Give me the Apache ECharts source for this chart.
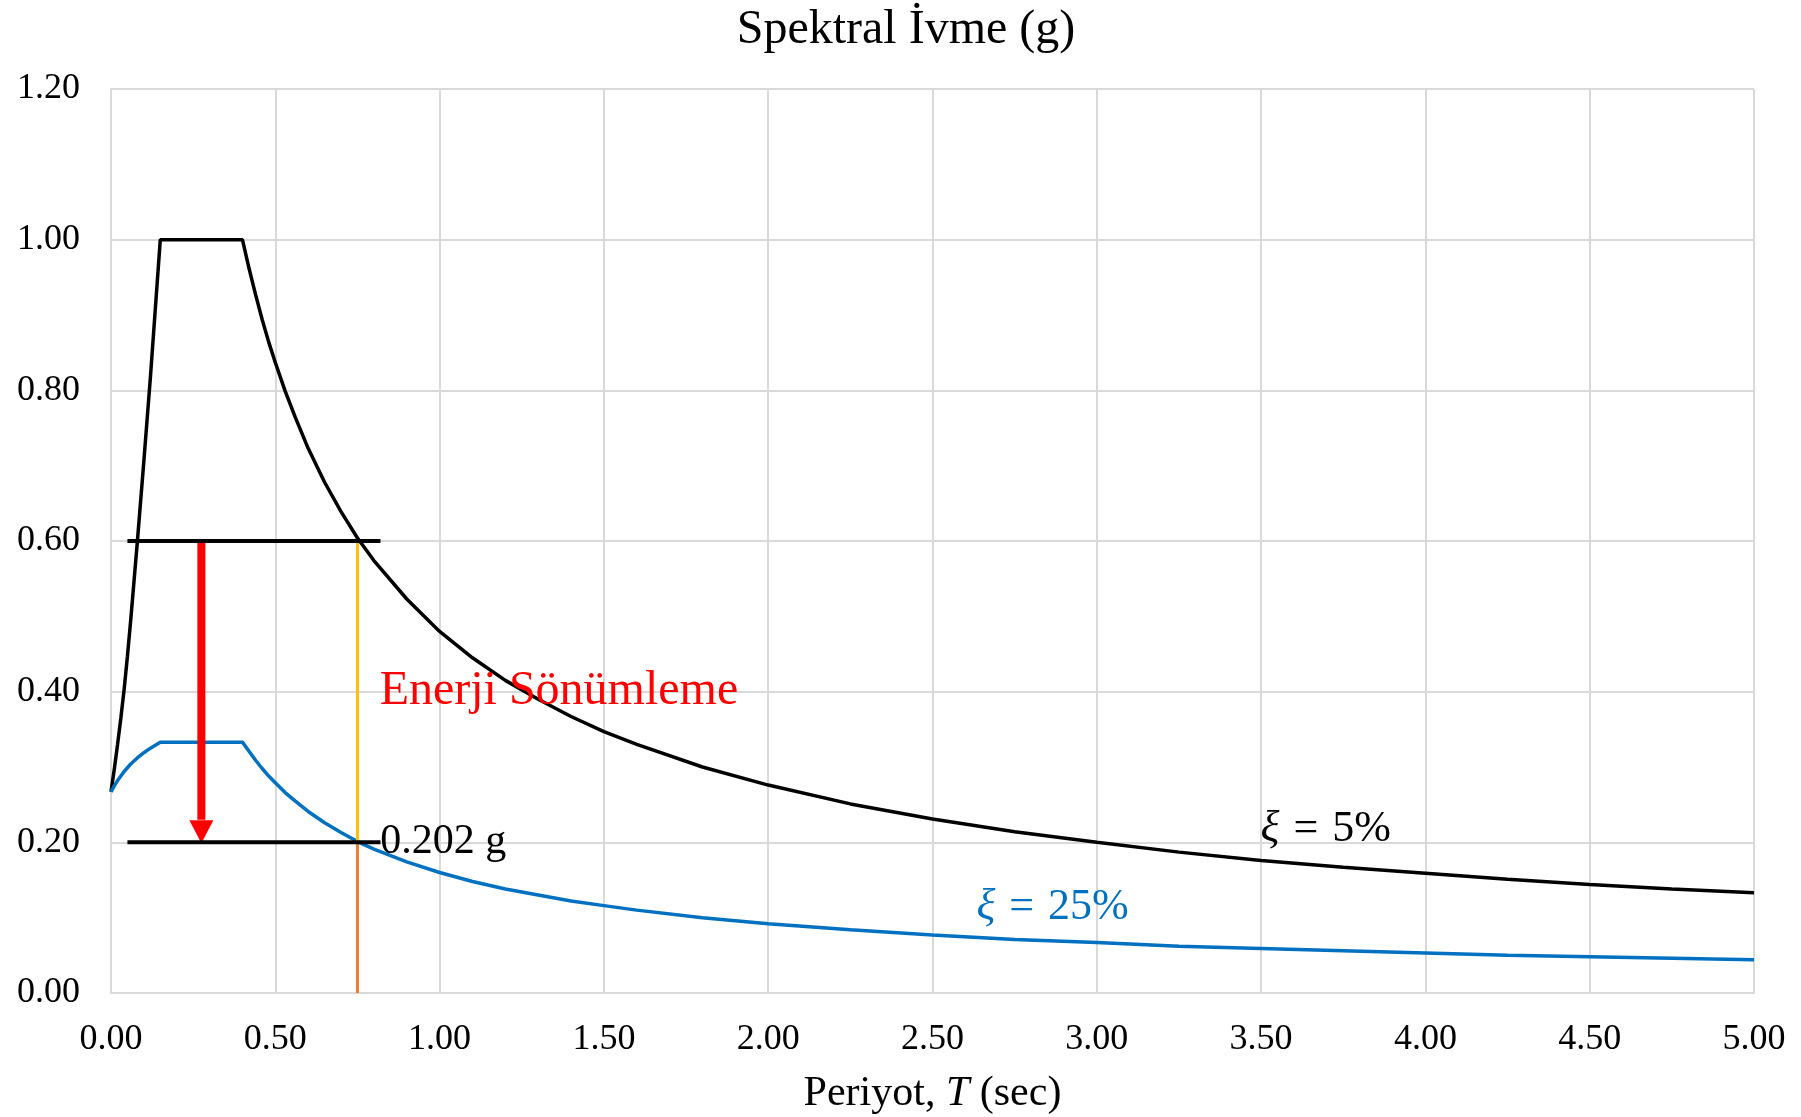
<!DOCTYPE html>
<html lang="tr">
<head>
    <meta charset="UTF-8">
    <title>Spektral İvme</title>
    <script src="https://cdn.jsdelivr.net/npm/echarts@6/dist/echarts.min.js"></script>
    <style>
        html, body { margin: 0; padding: 0; background: #fff; }
        #spektrum { width: 1801px; height: 1117px; }
    </style>
</head>
<body>
<div id="spektrum"></div>
<script>
    // periyot T (s)
    var periods = [0, 0.01, 0.02, 0.03, 0.04, 0.05, 0.06, 0.08, 0.10, 0.12, 0.15,
        0.40, 0.42, 0.44, 0.46, 0.48, 0.50, 0.53, 0.56, 0.60, 0.65, 0.70, 0.75, 0.80, 0.90,
        1.00, 1.10, 1.20, 1.30, 1.40, 1.50, 1.60, 1.80, 2.00, 2.25, 2.50, 2.75,
        3.00, 3.25, 3.50, 3.75, 4.00, 4.25, 4.50, 4.75, 5.00];
    // ksi = %5 spektral ivme (g)
    var sa5 = [0.267, 0.297, 0.330, 0.365, 0.403, 0.447, 0.495, 0.598, 0.706, 0.818, 1.000,
        1.000, 0.962, 0.927, 0.894, 0.864, 0.837, 0.799, 0.765, 0.723, 0.678, 0.639, 0.604, 0.574, 0.523,
        0.480, 0.445, 0.415, 0.390, 0.367, 0.347, 0.330, 0.300, 0.276, 0.251, 0.231, 0.214,
        0.200, 0.187, 0.176, 0.167, 0.159, 0.151, 0.144, 0.138, 0.133];
    // ksi = %25 spektral ivme (g)
    var sa25 = [0.267, 0.275, 0.282, 0.288, 0.294, 0.299, 0.304, 0.312, 0.319, 0.325, 0.333,
        0.333, 0.321, 0.309, 0.298, 0.288, 0.279, 0.266, 0.255, 0.241, 0.226, 0.213, 0.201, 0.191, 0.174,
        0.160, 0.148, 0.138, 0.130, 0.122, 0.116, 0.110, 0.100, 0.092, 0.084, 0.077, 0.071,
        0.067, 0.062, 0.059, 0.056, 0.053, 0.050, 0.048, 0.046, 0.044];

    var xTicks = [0, 0.5, 1, 1.5, 2, 2.5, 3, 3.5, 4, 4.5, 5];
    var yTicks = [0, 0.2, 0.4, 0.6, 0.8, 1.0, 1.2];

    // isaretler
    var levels = [0.6, 0.2];          // yatay siyah cizgiler
    var levelSpan = [0.05, 0.82];     // yatay cizgi baslangic / bitis T
    var markT = 0.75;                 // dusey cizgi
    var arrowT = 0.275;               // kirmizi ok
    var arrowEnd = [0.6, 0.23, 0.214];  // ok govdesi ust, alt, ok basi merkezi

    var textNotes = [
        {name: 'Enerji Sönümleme', t: 0.816, a: 0.40},
        {name: '0.202 g', t: 0.818, a: 0.2},
        {name: 'xi5', t: 3.497, a: 0.217},
        {name: 'xi25', t: 2.632, a: 0.114}
    ];

    var FONT = "'Times New Roman', 'Liberation Serif', serif";

    function zip(xs, ys) {
        return xs.map(function (x, i) { return [x, ys[i]]; });
    }

    function note(n, text, color, size, rich) {
        return {
            type: 'scatter', symbolSize: 1, z: 10, silent: true,
            itemStyle: {color: 'rgba(0,0,0,0)', opacity: 1},
            label: {
                show: true, position: 'right', distance: 0, opacity: 1,
                formatter: text, color: color, fontSize: size, fontFamily: FONT,
                rich: rich || {}
            },
            data: [[n.t, n.a]]
        };
    }

    function xiRich(color) {
        return {
            i: {fontFamily: FONT, fontSize: 44, fontStyle: 'italic', color: color},
            e: {fontFamily: FONT, fontSize: 44, color: color, padding: [0, 3, 0, 3]}
        };
    }

    var chart = echarts.init(document.getElementById('spektrum'));
    chart.setOption({
        animation: false,
        backgroundColor: '#fff',
        title: {
            text: 'Spektral İvme (g)',
            left: 901, top: 1, textAlign: 'center',
            textStyle: {fontFamily: FONT, fontSize: 48, fontWeight: 'normal', color: '#000'}
        },
        grid: {left: 111, right: 47, top: 89, bottom: 124, containLabel: false, outerBoundsMode: 'none'},
        xAxis: {
            type: 'value', min: xTicks[0], max: xTicks[xTicks.length - 1], interval: 0.5,
            name: 'Periyot, {i|T} (sec)', nameLocation: 'middle', nameGap: 80,
            nameTextStyle: {
                fontFamily: FONT, fontSize: 42, color: '#000',
                rich: {i: {fontFamily: FONT, fontSize: 42, fontStyle: 'italic', color: '#000'}}
            },
            axisLine: {lineStyle: {color: '#d9d9d9', width: 2}},
            axisTick: {show: false},
            splitLine: {show: true, lineStyle: {color: '#d9d9d9', width: 2}},
            axisLabel: {
                margin: 29, fontFamily: FONT, fontSize: 36, color: '#000',
                formatter: function (v) { return v.toFixed(2); }
            }
        },
        yAxis: {
            type: 'value', min: yTicks[0], max: yTicks[yTicks.length - 1], interval: 0.2,
            axisLine: {show: true, lineStyle: {color: '#d9d9d9', width: 2}},
            axisTick: {show: false},
            splitLine: {show: true, lineStyle: {color: '#d9d9d9', width: 2}},
            axisLabel: {
                margin: 31, fontFamily: FONT, fontSize: 36, color: '#000',
                formatter: function (v) { return v.toFixed(2); }
            }
        },
        series: [
            {
                name: 'ξ = 5%', type: 'line', showSymbol: false, z: 3,
                lineStyle: {color: '#000', width: 3.5},
                data: zip(periods, sa5)
            },
            {
                name: 'ξ = 25%', type: 'line', showSymbol: false, z: 3,
                lineStyle: {color: '#0070c0', width: 3.5},
                data: zip(periods, sa25)
            },
            {
                // dusey sari cizgi (0.6 -> 0.2)
                type: 'line', showSymbol: false, z: 4,
                lineStyle: {color: '#ffc000', width: 3},
                data: [[markT, levels[0]], [markT, levels[1]]]
            },
            {
                // dusey turuncu cizgi (0.2 -> 0)
                type: 'line', showSymbol: false, z: 4,
                lineStyle: {color: '#ed7d31', width: 3},
                data: [[markT, levels[1]], [markT, 0]]
            },
            {
                // ok govdesi
                type: 'line', showSymbol: false, z: 5,
                lineStyle: {color: '#ff0000', width: 8, cap: 'butt'},
                data: [[arrowT, arrowEnd[0]], [arrowT, arrowEnd[1]]]
            },
            {
                // ok basi
                type: 'scatter', symbol: 'triangle', symbolRotate: 180, symbolSize: [24, 23], z: 5,
                itemStyle: {color: '#ff0000', opacity: 1},
                data: [[arrowT, arrowEnd[2]]]
            },
            {
                type: 'line', showSymbol: false, z: 6,
                lineStyle: {color: '#000', width: 4, cap: 'butt'},
                data: [[levelSpan[0], levels[0]], [levelSpan[1], levels[0]]]
            },
            {
                type: 'line', showSymbol: false, z: 6,
                lineStyle: {color: '#000', width: 4, cap: 'butt'},
                data: [[levelSpan[0], levels[1]], [levelSpan[1], levels[1]]]
            },
            note(textNotes[0], textNotes[0].name, '#ff0000', 48),
            note(textNotes[1], textNotes[1].name, '#000', 42),
            note(textNotes[2], '{i|ξ} {e|=} 5%', '#000', 44, xiRich('#000')),
            note(textNotes[3], '{i|ξ} {e|=} 25%', '#0070c0', 44, xiRich('#0070c0'))
        ]
    });
</script>
</body>
</html>
